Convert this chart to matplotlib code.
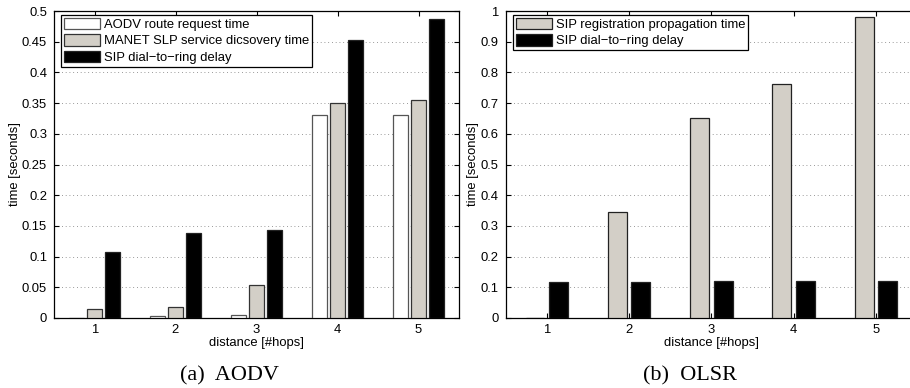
import matplotlib
matplotlib.use("Agg")
import matplotlib.pyplot as plt
import numpy as np

plt.rcParams['font.family'] = ['Liberation Sans', 'DejaVu Sans']

hops = [1, 2, 3, 4, 5]
hop_labels = ['1', '2', '3', '4', '5']

# (a) AODV
aodv_route = [0.0, 0.003, 0.005, 0.330, 0.330]
aodv_slp = [0.015, 0.018, 0.053, 0.350, 0.355]
aodv_sip = [0.107, 0.138, 0.144, 0.453, 0.487]
aodv_names = ['AODV route request time', 'MANET SLP service dicsovery time', 'SIP dial\u2212to\u2212ring delay']

# (b) OLSR
olsr_reg = [0.0, 0.344, 0.652, 0.762, 0.982]
olsr_sip = [0.116, 0.117, 0.119, 0.121, 0.122]
olsr_names = ['SIP registration propagation time', 'SIP dial\u2212to\u2212ring delay']

aodv_yticks = [0, 0.05, 0.1, 0.15, 0.2, 0.25, 0.3, 0.35, 0.4, 0.45, 0.5]
aodv_ytl = ['0', '0.05', '0.1', '0.15', '0.2', '0.25', '0.3', '0.35', '0.4', '0.45', '0.5']
olsr_yticks = [0, 0.1, 0.2, 0.3, 0.4, 0.5, 0.6, 0.7, 0.8, 0.9, 1.0]
olsr_ytl = ['0', '0.1', '0.2', '0.3', '0.4', '0.5', '0.6', '0.7', '0.8', '0.9', '1']

W, H = 910, 388
fig = plt.figure(figsize=(W / 100, H / 100), dpi=100)

GRAY = '#d3cfc7'
FS = 9.4


def px_axes(x0, x1, y0, y1):
    return fig.add_axes([x0 / W, (H - y1) / H, (x1 - x0) / W, (y1 - y0) / H])


def style(ax, yticks, ytl, ymax):
    ax.set_xlim(0.5, 5.5)
    ax.set_ylim(0, ymax)
    ax.set_xticks(hops)
    ax.set_xticklabels(hop_labels)
    ax.set_yticks(yticks)
    ax.set_yticklabels(ytl)
    ax.tick_params(direction='in', top=True, right=True, length=3.5, width=0.8,
                   labelsize=FS, pad=5)
    ax.tick_params(axis='x', pad=4)
    ax.yaxis.grid(True, linestyle=(0, (1, 3.5)), color='#777777', linewidth=0.6)
    ax.set_axisbelow(True)
    for s in ax.spines.values():
        s.set_linewidth(0.9)
    ax.set_xlabel('distance [#hops]', fontsize=FS, labelpad=1)
    ax.set_ylabel('time [seconds]', fontsize=FS, labelpad=1)


x = np.array(hops, dtype=float)


def make_legend(ax):
    leg = ax.legend(loc='upper left', bbox_to_anchor=(0.018, 0.988), fontsize=FS, frameon=True,
                    fancybox=False, edgecolor='black', framealpha=1, borderpad=0.22,
                    handlelength=2.75, handleheight=1.0, handletextpad=0.3, labelspacing=0.25,
                    borderaxespad=0.0)
    leg.get_frame().set_linewidth(0.9)
    return leg


# left axes
ax1 = px_axes(54, 459, 11, 318)
n = 3
gw = min(0.8, n / (n + 1.5))
off = gw / n
bw = off * 0.8
specs1 = [(aodv_route, 'white', '#555555'), (aodv_slp, GRAY, '#333333'), (aodv_sip, 'black', '#222222')]
for i, ((vals, fc, ec), name) in enumerate(zip(specs1, aodv_names)):
    ax1.bar(x + (i - 1) * off, vals, width=bw, color=fc, edgecolor=ec, linewidth=0.9, label=name, zorder=3)
style(ax1, aodv_yticks, aodv_ytl, 0.5)
make_legend(ax1)

# right axes
ax2 = px_axes(505.7, 917, 11, 318)
n = 2
gw = min(0.8, n / (n + 1.5))
off = gw / n
bw = off * 0.8
specs2 = [(olsr_reg, GRAY, '#222222'), (olsr_sip, 'black', '#222222')]
for i, ((vals, fc, ec), name) in enumerate(zip(specs2, olsr_names)):
    ax2.bar(x + (i - 0.5) * off, vals, width=bw, color=fc, edgecolor=ec, linewidth=0.9, label=name, zorder=3)
style(ax2, olsr_yticks, olsr_ytl, 1.0)
make_legend(ax2)

fig.text(230 / W, 1 - 376 / H, '(a)  AODV', family='Liberation Serif', fontsize=16,
         ha='center', va='center')
fig.text(690 / W, 1 - 376 / H, '(b)  OLSR', family='Liberation Serif', fontsize=16,
         ha='center', va='center')

fig.savefig('out.png', dpi=100)
